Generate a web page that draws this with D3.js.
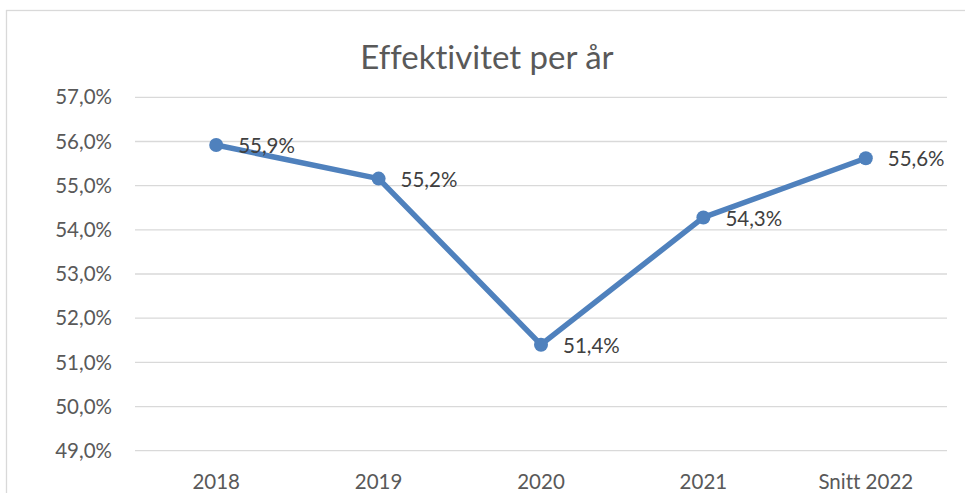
<!DOCTYPE html>
<meta charset="utf-8">
<style>
body{ margin:0; background:#fff; }
text{ font-family: Lato, "Open Sans", sans-serif; fill:#595959; font-variant-ligatures:none; }
.grid line{ stroke:#d9d9d9; stroke-width:1.3px; }
.title{ font-size:33px; text-anchor:middle; }
.ytick{ font-size:20.5px; text-anchor:end; }
.xtick{ font-size:20.5px; text-anchor:middle; }
.lbl{ font-size:20.5px; fill:#404040; }
</style>
<body>
<script src="https://d3js.org/d3.v7.min.js"></script>
<script>
// data
var years = ["2018", "2019", "2020", "2021", "Snitt 2022"];
var values = [55.92, 55.16, 51.40, 54.28, 55.62];
var yTicks = [49, 50, 51, 52, 53, 54, 55, 56, 57];

var W = 965, H = 493;
var svg = d3.select("body").append("svg").attr("width", W).attr("height", H);

// chart frame
svg.append("rect").attr("x", 6.5).attr("y", 10.5).attr("width", W + 10).attr("height", H + 10)
   .attr("fill", "#fff").attr("stroke", "#d9d9d9").attr("stroke-width", 1.3);

svg.append("text").attr("class", "title").attr("x", 487).attr("y", 69).text("Effektivitet per år");

var x = d3.scaleBand().domain(years).range([135, 947]);
var y = d3.scaleLinear().domain([49, 57]).range([450.7, 97.3]);
var fmt = d => d3.format(".1f")(d).replace(".", ",") + "%";

// gridlines
svg.append("g").attr("class", "grid").selectAll("line").data(yTicks).join("line")
   .attr("x1", 135).attr("x2", 947)
   .attr("y1", d => y(d)).attr("y2", d => y(d));

svg.append("g").selectAll("text").data(yTicks).join("text").attr("class", "ytick")
   .attr("x", 112).attr("y", d => y(d)).attr("dy", "0.35em").text(fmt);

svg.append("g").selectAll("text").data(years).join("text").attr("class", "xtick")
   .attr("x", d => x(d) + x.bandwidth() / 2).attr("y", 482).attr("dy", "0.35em").text(d => d);

var pts = years.map((d, i) => [x(d) + x.bandwidth() / 2, y(values[i])]);

svg.append("path").attr("d", d3.line()(pts)).attr("fill", "none")
   .attr("stroke", "#4f81bd").attr("stroke-width", 5.5).attr("stroke-linejoin", "round");

svg.append("g").selectAll("circle").data(pts).join("circle")
   .attr("cx", d => d[0]).attr("cy", d => d[1]).attr("r", 7).attr("fill", "#4f81bd");

svg.append("g").selectAll("text").data(pts).join("text").attr("class", "lbl")
   .attr("x", d => d[0] + 22).attr("y", (d, i) => d[1] + 1).attr("dy", "0.35em")
   .text((d, i) => fmt(values[i]));
</script>
</body>
